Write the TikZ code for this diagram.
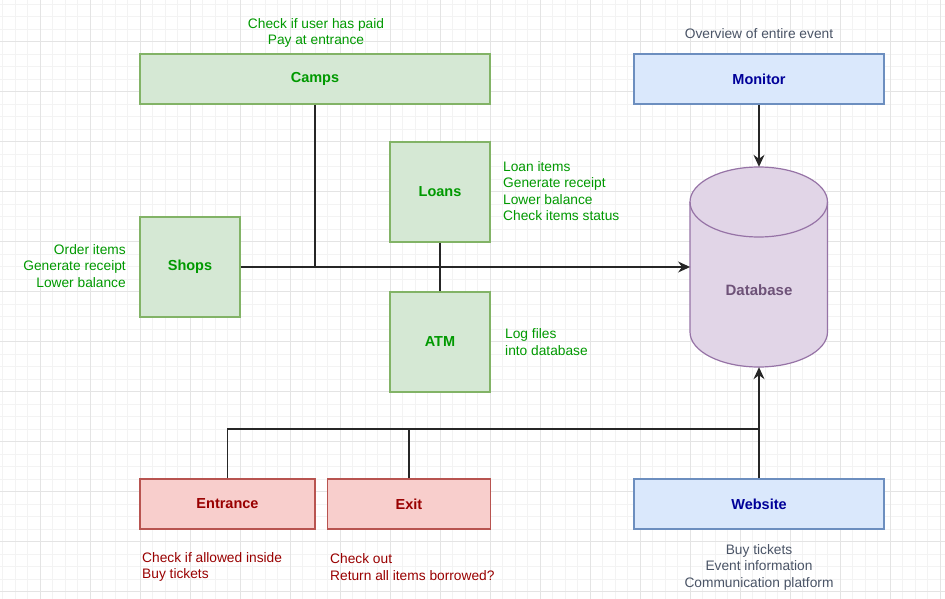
\documentclass[tikz,border=0pt]{standalone}
\usepackage{fontspec}
\setmainfont{Liberation Sans}
\usetikzlibrary{arrows.meta}

\definecolor{greenFill}{HTML}{D5E8D4}
\definecolor{greenLine}{HTML}{82B366}
\definecolor{greenText}{HTML}{009900}
\definecolor{blueFill}{HTML}{DAE8FC}
\definecolor{blueLine}{HTML}{6C8EBF}
\definecolor{blueText}{HTML}{000099}
\definecolor{redFill}{HTML}{F8CECC}
\definecolor{redLine}{HTML}{B85450}
\definecolor{redText}{HTML}{990000}
\definecolor{purpleFill}{HTML}{E1D5E7}
\definecolor{purpleLine}{HTML}{9673A6}
\definecolor{purpleText}{HTML}{6E5278}
\definecolor{grayText}{HTML}{4A5466}
\definecolor{gridMajor}{HTML}{E4E4E4}
\definecolor{gridMinor}{HTML}{F3F3F3}

\begin{document}
\begin{tikzpicture}
        [x=1pt, y=-1pt,
        box/.style={rectangle, draw, line width=1.2pt, inner sep=0pt, font=\fontsize{14.5}{17}\selectfont\bfseries},
        boxGreen/.style={box, fill=greenFill, draw=greenLine, text=greenText},
        boxBlue/.style={box, fill=blueFill, draw=blueLine, text=blueText},
        boxRed/.style={box, fill=redFill, draw=redLine, text=redText},
        note/.style={inner sep=0pt, font=\fontsize{13.75}{16.5}\selectfont},
        link/.style={line width=1.2pt, draw=black!85},
        arrow/.style={link, -{Stealth[length=12pt, width=11pt, inset=4pt]}}]
        \useasboundingbox (0,0) rectangle (945,599);
        \fill[white] (0,0) rectangle (945,599);
        \foreach \gx in {2.5,15,...,945} \draw[gridMinor, line width=0.8pt] (\gx,0) -- (\gx,599);
        \foreach \gy in {4.17,16.67,...,599} \draw[gridMinor, line width=0.8pt] (0,\gy) -- (945,\gy);
        \foreach \gx in {40,90,...,940} \draw[gridMajor, line width=0.9pt] (\gx,0) -- (\gx,599);
        \foreach \gy in {41.67,91.67,...,599} \draw[gridMajor, line width=0.9pt] (0,\gy) -- (945,\gy);

        \node[boxGreen, minimum width=350, minimum height=50] (camps) at (315,79) {Camps};
        \node[boxBlue, minimum width=250, minimum height=50] (monitor) at (759,79) {Monitor};
        \node[boxGreen, minimum width=100, minimum height=100] (loans) at (440,192) {Loans};
        \node[boxGreen, minimum width=100, minimum height=100] (shops) at (190,267) {Shops};
        \node[boxGreen, minimum width=100, minimum height=100] (atm) at (440,342) {ATM};
        \node[boxRed, minimum width=175, minimum height=50] (entrance) at (227.5,504) {Entrance};
        \node[boxRed, minimum width=163, minimum height=50] (exit) at (409,504) {Exit};
        \node[boxBlue, minimum width=250, minimum height=50] (website) at (759,504) {Website};

        % database cylinder
        \node[minimum width=137.5, minimum height=200, inner sep=0pt] (db) at (759,267) {};
        \draw[fill=purpleFill, draw=purpleLine, line width=1.2pt]
            (690,202) -- (690,332) arc[start angle=180, end angle=360, x radius=68.75pt, y radius=35pt]
            -- (827.5,202) arc[start angle=0, end angle=180, x radius=68.75pt, y radius=35pt] -- cycle;
        \draw[draw=purpleLine, line width=1.2pt]
            (690,202) arc[start angle=180, end angle=360, x radius=68.75pt, y radius=35pt];
        \node[font=\fontsize{15}{17}\selectfont\bfseries, text=purpleText] (dbLabel) at (759,290) {Database};

        \node[note, text=greenText, align=center] (campsNote) at (316,33) {Check if user has paid\\Pay at entrance};
        \node[note, text=grayText, align=center] (monitorNote) at (759,34) {Overview of entire event};
        \node[note, text=greenText, align=left, anchor=west] (loansNote) at (503,191) {Loan items\\Generate receipt\\Lower balance\\Check items status};
        \node[note, text=greenText, align=right, anchor=east] (shopsNote) at (126,266) {Order items\\Generate receipt\\Lower balance};
        \node[note, text=greenText, align=left, anchor=west] (atmNote) at (505,342) {Log files\\into database};
        \node[note, text=redText, align=left, anchor=west] (entranceNote) at (142,567) {Check if allowed inside\\Buy tickets};
        \node[note, text=redText, align=left, anchor=west] (exitNote) at (330,567) {Check out\\Return all items borrowed?};
        \node[note, text=grayText, align=center] (websiteNote) at (759,567) {Buy tickets\\Event information\\Communication platform};

        \coordinate (busJoin) at (759,429);

        \draw[arrow] (shops.east) -- (db.west);
        \draw[link] (camps.south) -- (camps.south |- shops.east);
        \draw[link] (loans.south) -- (atm.north);
        \draw[arrow] (monitor.south) -- (db.north);
        \draw[link] (entrance.north) |- (busJoin);
        \draw[link] (exit.north) -- (exit.north |- busJoin);
        \draw[arrow] (website.north) -- (db.south);

    \end{tikzpicture}
\end{document}
